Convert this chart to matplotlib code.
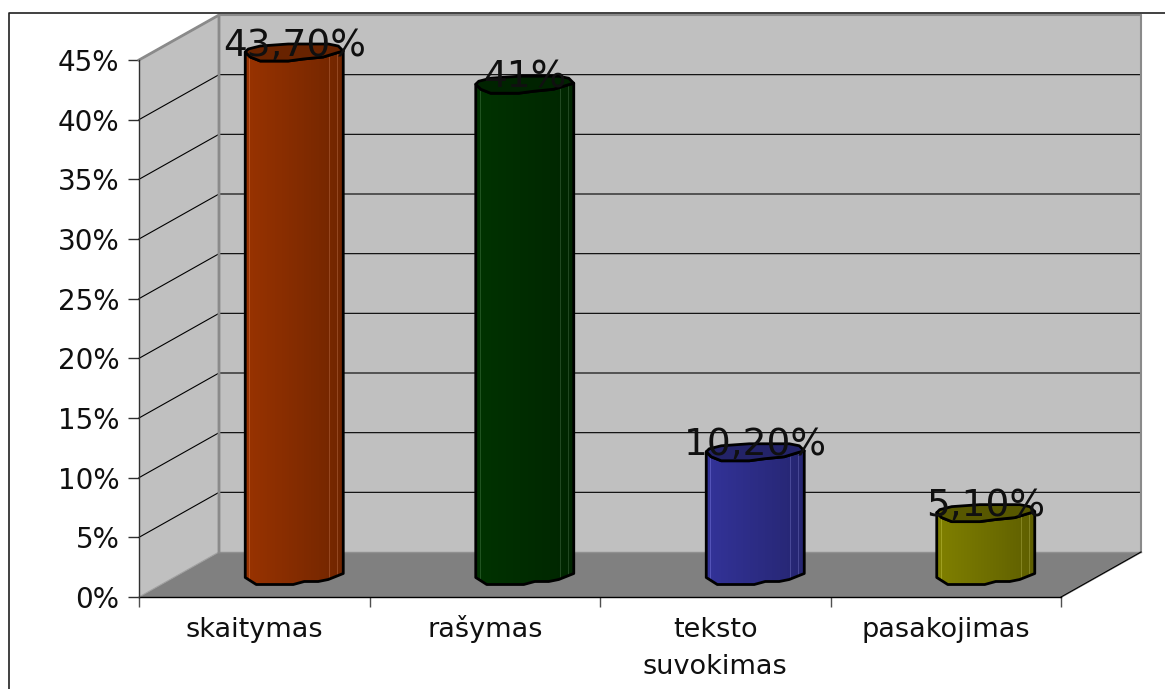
import numpy as np
import matplotlib
matplotlib.use("Agg")
import matplotlib.pyplot as plt
from matplotlib.lines import Line2D
from matplotlib.patches import Polygon

categories = ["skaitymas", "rašymas", "teksto\nsuvokimas", "pasakojimas"]
values = [43.7, 41, 10.2, 5.1]
value_labels = ["43,70%", "41%", "10,20%", "5,10%"]
bar_colors = ["#993300", "#003300", "#333399", "#808000"]
y_ticks = [0, 5, 10, 15, 20, 25, 30, 35, 40, 45]
y_tick_labels = ["0%", "5%", "10%", "15%", "20%", "25%", "30%", "35%", "40%", "45%"]

W, H = 1165, 689
PX_X = (1061 - 139) / 4  # pixels per category
PX_Y = (597 - 60) / 45  # pixels per percent
DX = 80 / PX_X  # depth of the 3d box
DY = 45 / PX_Y
WALL = "#c0c0c0"
FLOOR = "#808080"
EDGE = "#8a8a8a"

# outline of the wobbly cylinder, pixels from the bar centre (y is up)
cap_front = [(-49, 1), (-44, -4), (-34, -8), (-6, -8), (9, -6), (29, -4), (42, 0), (49, 2)]
cap_back = [(44, 7), (34, 9), (-6, 9), (-34, 7), (-46, 4)]
foot = [(49, 1), (34, -5), (24, -7), (10, -7), (-1, -10), (-38, -10), (-49, -3)]


def to_data(points, x0, y0):
    return [(x0 + px / PX_X, y0 + py / PX_Y) for px, py in points]


def draw_bar(ax, center, value, color):
    top = value + DY / 2
    base = DY / 2
    body = to_data(cap_front, center, top) + to_data(foot, center, base)
    rgb = np.array(matplotlib.colors.to_rgb(color))

    # shading goes darker to the right, with a few light facet lines
    shade = np.linspace(1.0, 0.74, 98)
    strip = np.array([rgb * s for s in shade])
    for i in (4, 84, 92):
        strip[i] = np.minimum(strip[i] + 0.13, 1)
    left, right = center - 49 / PX_X, center + 49 / PX_X
    poly = Polygon(body, closed=True, facecolor="none", edgecolor="black", linewidth=2,
                   zorder=5, clip_on=False, joinstyle="round")
    ax.add_patch(poly)
    im = ax.imshow(strip[np.newaxis, :, :], extent=(left, right, 0, value + DY), aspect="auto",
                   interpolation="nearest", zorder=4)
    im.set_clip_box(fig.bbox)  # the tallest bar pokes out above the 45% line
    im.set_clip_path(poly)

    cap = to_data(cap_front + cap_back, center, top)
    ax.add_patch(Polygon(cap, closed=True, facecolor=rgb * 0.68, edgecolor="black", linewidth=2,
                         zorder=6, clip_on=False, joinstyle="round"))


fig = plt.figure(figsize=(W / 100, H / 100), dpi=100)
ax = fig.add_axes([139 / W, 1 - 597 / H, (1061 - 139) / W, (597 - 60) / H])
ax.patch.set_visible(False)
for s in ax.spines.values():
    s.set_visible(False)

# 3d box: back wall, side wall, floor
n = len(categories)
top_v = y_ticks[-1]
ax.add_patch(Polygon([(DX, DY), (n + DX, DY), (n + DX, top_v + DY), (DX, top_v + DY)],
                     facecolor=WALL, edgecolor="none", zorder=1, clip_on=False))
ax.add_patch(Polygon([(0, 0), (DX, DY), (DX, top_v + DY), (0, top_v)],
                     facecolor=WALL, edgecolor="none", zorder=1, clip_on=False))
ax.add_patch(Polygon([(0, 0), (n, 0), (n + DX, DY), (DX, DY)],
                     facecolor=FLOOR, edgecolor="none", zorder=1, clip_on=False))

for t in y_ticks[1:]:
    ax.plot([0, DX, n + DX], [t, t + DY, t + DY], color="black", lw=0.8, zorder=2, clip_on=False,
            solid_joinstyle="miter")

ax.plot([0, DX, DX], [top_v, top_v + DY, DY], color=EDGE, lw=2, zorder=3, clip_on=False)
ax.plot([DX, n + DX, n + DX, n], [top_v + DY, top_v + DY, DY, 0], color=EDGE, lw=1.5, zorder=3, clip_on=False)
ax.plot([DX, n + DX], [DY, DY], color="#909090", lw=1, zorder=2, clip_on=False)
ax.plot([n, n + DX], [0, DY], color="black", lw=0.8, zorder=3, clip_on=False)
ax.plot([0, DX], [0, DY], color="#a0a0a0", lw=0.8, zorder=2, clip_on=False)
ax.plot([0, n], [0, 0], color="black", lw=1, zorder=3, clip_on=False)
ax.plot([0, 0], [0, top_v], color="#303030", lw=1, zorder=3, clip_on=False)

centers = np.arange(n) + 0.5 + DX / 2
for c, v, col, lab in zip(centers, values, bar_colors, value_labels):
    draw_bar(ax, c, v, col)
    ax.annotate(lab, (c, v + DY / 2), xytext=(0, 5.4), textcoords="offset points", ha="center", va="center",
                fontsize=27, family="DejaVu Sans", color="#101010", zorder=8, annotation_clip=False)

ax.set_xlim(0, n)
ax.set_ylim(0, top_v)
ax.set_yticks(y_ticks)
ax.set_yticklabels(y_tick_labels, fontsize=20, family="DejaVu Sans", color="#101010")
ax.set_xticks(np.arange(n + 1))
ax.set_xticklabels([])
ax.tick_params(axis="y", length=8, width=1, color="#303030", pad=6)
ax.tick_params(axis="x", which="major", length=7.5, width=1, color="#505050")

# category names one line at a time, a multi-line tick label will not sit on a shared baseline
for i, name in enumerate(categories):
    for j, line in enumerate(name.split("\n")):
        ax.annotate(line, (i + 0.5, 0), xytext=(0, -28.5 - 26.6 * j), textcoords="offset points",
                    ha="center", va="baseline", fontsize=19.5, family="DejaVu Sans", color="#101010",
                    annotation_clip=False)

# chart frame, cut off on the right and at the bottom
fig.add_artist(Line2D([9 / W, 9 / W, 1], [0, 1 - 13 / H, 1 - 13 / H], color="#202020", lw=1.2))

fig.savefig("out.png", dpi=100)
